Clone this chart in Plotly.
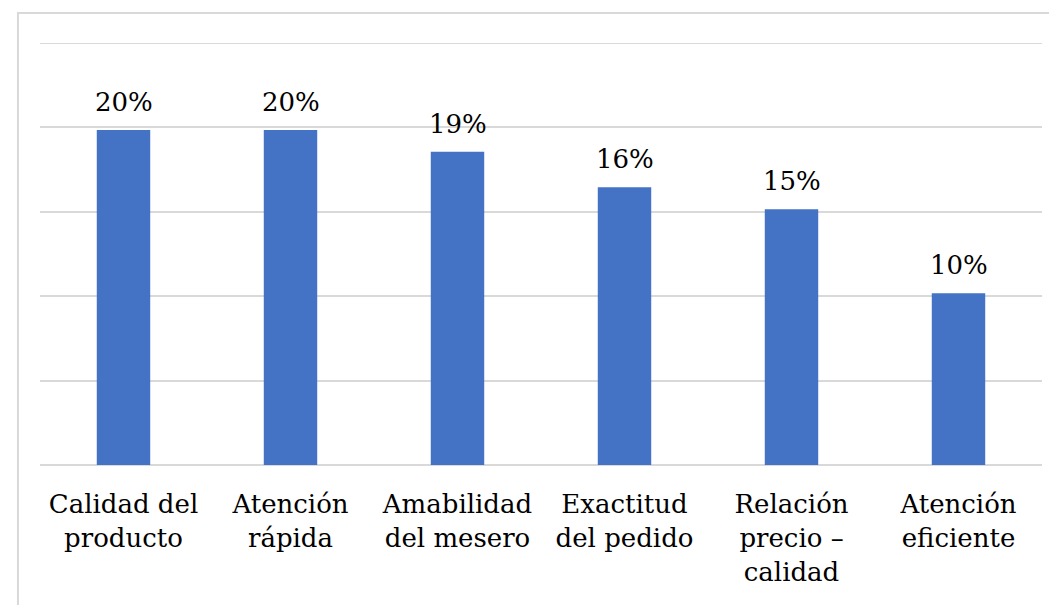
import plotly.graph_objects as go

categories = ["Calidad del<br>producto", "Atención<br>rápida", "Amabilidad<br>del mesero",
              "Exactitud<br>del pedido", "Relación<br>precio –<br>calidad", "Atención<br>eficiente"]
values = [19.85, 19.85, 18.56, 16.45, 15.15, 10.17]
labels = [f"{round(v)}%" for v in values]

FONT = "DejaVu Serif"
GRID = "#d9d9d9"

fig = go.Figure()
fig.add_trace(go.Bar(
    x=categories, y=values,
    marker=dict(color="#4472C4", line=dict(width=0)),
    width=0.32,
    hoverinfo="skip",
))

for c, v, t in zip(categories, values, labels):
    fig.add_annotation(x=c, y=v, text=t, showarrow=False, yanchor="bottom",
                       yshift=11, font=dict(family=FONT, size=26, color="#000000"))

fig.add_shape(type="rect", xref="paper", yref="paper",
              x0=-0.022, x1=1.2, y0=-0.5, y1=1.071,
              line=dict(color=GRID, width=2), fillcolor="rgba(0,0,0,0)", layer="below")
fig.add_shape(type="line", xref="paper", yref="y", x0=0, x1=1, y0=25, y1=25,
              line=dict(color=GRID, width=2), layer="below")

fig.update_layout(
    width=1049, height=597,
    margin=dict(l=32, r=15, t=35, b=140),
    paper_bgcolor="white", plot_bgcolor="white",
    showlegend=False,
    font=dict(family=FONT, size=26, color="#000000"),
    xaxis=dict(showgrid=False, showline=False, ticks="", tickfont=dict(family=FONT, size=26),
               tickangle=0, automargin=False, ticklabelstandoff=21, fixedrange=True),
    yaxis=dict(range=[0, 25], dtick=5, showticklabels=False, showgrid=True,
               gridcolor=GRID, gridwidth=2, zeroline=True, zerolinecolor=GRID,
               zerolinewidth=2, showline=False, ticks="", fixedrange=True),
)

fig.write_html("out.html")
